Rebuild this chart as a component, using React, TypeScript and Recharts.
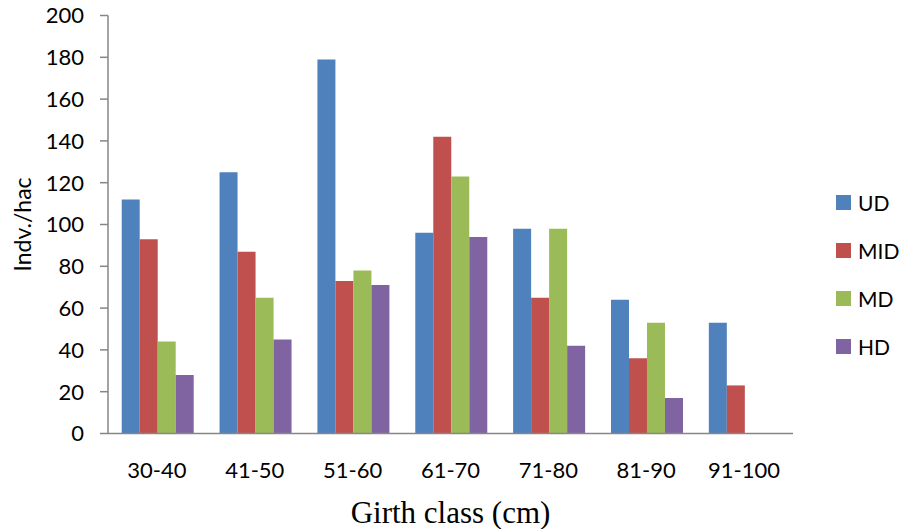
import React from 'react';
import { BarChart, Bar, XAxis, YAxis, Legend, Label } from 'recharts';

// Girth classes and stand densities (individuals per hectare)
const girthClasses = ['30-40', '41-50', '51-60', '61-70', '71-80', '81-90', '91-100'];
const seriesNames = ['UD', 'MID', 'MD', 'HD'];
const udValues = [112, 125, 179, 96, 98, 64, 53];
const midValues = [93, 87, 73, 142, 65, 36, 23];
const mdValues = [44, 65, 78, 123, 98, 53, null];
const hdValues = [28, 45, 71, 94, 42, 17, null];
const yTicks = [0, 20, 40, 60, 80, 100, 120, 140, 160, 180, 200];
const edgeTicks = [0, 1, 2, 3, 4, 5, 6, 7];

const data = girthClasses.map((g, i) => ({
  girth: g,
  UD: udValues[i],
  MID: midValues[i],
  MD: mdValues[i],
  HD: hdValues[i],
}));

const SANS = 'Lato, "Liberation Sans", sans-serif';
const AXIS_GREY = '#868686';

const renderLegend = (props: any) => {
  const items = [...(props.payload || [])].sort(
    (a: any, b: any) => seriesNames.indexOf(a.value) - seriesNames.indexOf(b.value)
  );
  return (
    <div style={{ fontFamily: SANS, fontSize: 21, color: '#000' }}>
      {items.map((it: any) => (
        <div key={it.value} style={{ display: 'flex', alignItems: 'center', height: 48 }}>
          <span style={{ width: 15, height: 15, background: it.color, display: 'inline-block', marginRight: 7 }} />
          <span>{it.value}</span>
        </div>
      ))}
    </div>
  );
};

const YTitle = (props: any) => {
  const vb = props.viewBox;
  const cx = 22;
  const cy = vb.y + vb.height / 2;
  return (
    <text
      x={cx}
      y={cy}
      transform={`rotate(-90, ${cx}, ${cy})`}
      textAnchor="middle"
      dominantBaseline="central"
      fontFamily={SANS}
      fontSize={23}
      fill="#000"
    >
      Indv./hac
    </text>
  );
};

export default function App() {
  return (
    <div style={{ position: 'absolute', left: 0, top: 0 }}>
      <BarChart
        width={904}
        height={529}
        data={data}
        margin={{ top: 15.5, right: 111, bottom: 0, left: 0 }}
        barCategoryGap="14%"
        barGap={0}
      >
        <XAxis
          xAxisId="b"
          dataKey="girth"
          axisLine={false}
          tickLine={false}
          tickSize={0}
          tickMargin={28}
          height={94.5}
          interval={0}
          tick={{ fontFamily: SANS, fontSize: 22, fill: '#000' }}
        >
          <Label
            value="Girth class (cm)"
            position="insideBottom"
            offset={6}
            style={{ fontFamily: '"Liberation Serif", "Times New Roman", serif', fontSize: 31, fill: '#000' }}
          />
        </XAxis>
        <XAxis
          xAxisId="a"
          type="number"
          domain={[0, 7]}
          ticks={edgeTicks}
          tick={false}
          tickSize={7}
          height={1}
          stroke={AXIS_GREY}
          strokeWidth={1.5}
          allowDataOverflow
        />
        <YAxis
          domain={[0, 200]}
          ticks={yTicks}
          interval={0}
          width={108}
          tickSize={8}
          tickMargin={16}
          stroke={AXIS_GREY}
          strokeWidth={1.5}
          tick={{ fontFamily: SANS, fontSize: 22, fill: '#000' }}
          label={<YTitle />}
        />
        <Legend
          layout="vertical"
          align="center"
          verticalAlign="middle"
          content={renderLegend}
          wrapperStyle={{ left: 836, top: 178, width: 80 }}
        />
        <Bar xAxisId="b" dataKey="UD" name="UD" fill="#4F81BD" isAnimationActive={false} />
        <Bar xAxisId="b" dataKey="MID" name="MID" fill="#C0504D" isAnimationActive={false} />
        <Bar xAxisId="b" dataKey="MD" name="MD" fill="#9BBB59" isAnimationActive={false} />
        <Bar xAxisId="b" dataKey="HD" name="HD" fill="#8064A2" isAnimationActive={false} />
      </BarChart>
    </div>
  );
}
